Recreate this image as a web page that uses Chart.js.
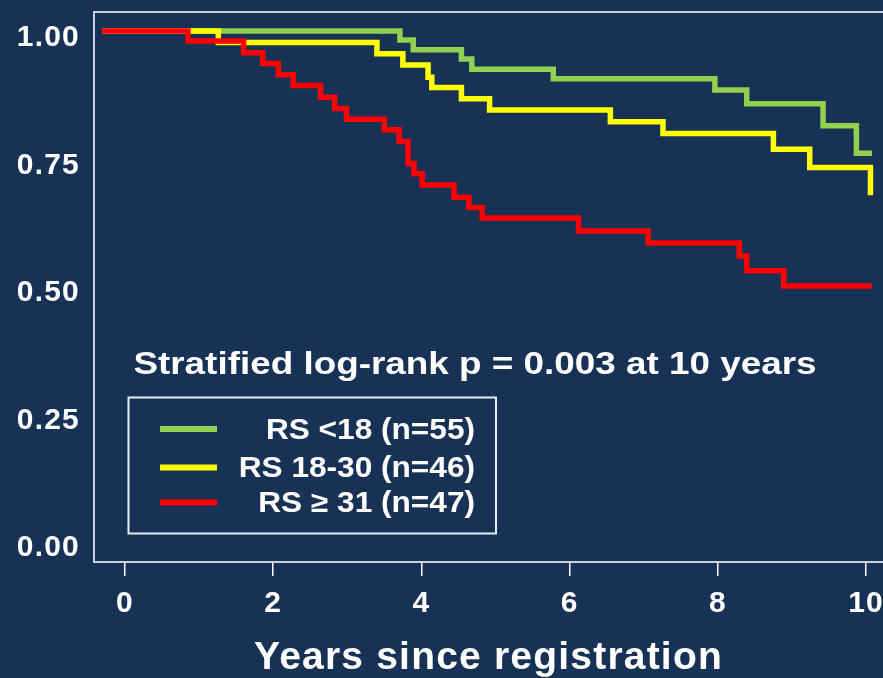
<!DOCTYPE html>
<html>
<head>
<meta charset="utf-8">
<title>Survival by Recurrence Score group</title>
<script src="https://cdn.jsdelivr.net/npm/chart.js@4.4.1/dist/chart.umd.min.js"></script>
<style>
  html, body { margin: 0; padding: 0; background: #173255; }
  #wrap { width: 883px; height: 678px; }
  canvas { display: block; }
</style>
</head>
<body>
<div id="wrap"><canvas id="km" width="883" height="678"></canvas></div>
<script>
// Kaplan-Meier step data: time (years) at which each drop happens, and the survival after it.
const seriesLabels = ['RS <18 (n=55)', 'RS 18-30 (n=46)', 'RS \u2265 31 (n=47)'];
const seriesColors = ['#92d050', '#ffff00', '#ff0000'];

const lowTimes = [-0.31, 3.71, 3.89, 4.54, 4.68, 5.78, 7.96, 8.39, 9.42, 9.87, 10.08];
const lowSurv  = [1.000, 0.982, 0.963, 0.945, 0.925, 0.906, 0.884, 0.857, 0.814, 0.760, 0.760];

const midTimes = [-0.31, 1.26, 3.40, 3.75, 4.09, 4.14, 4.54, 4.92, 6.55, 7.26, 8.75, 9.24, 10.06];
const midSurv  = [1.000, 0.977, 0.955, 0.933, 0.909, 0.889, 0.867, 0.845, 0.822, 0.799, 0.768, 0.732, 0.678];

const highTimes = [-0.31, 0.85, 1.60, 1.86, 2.07, 2.27, 2.64, 2.83, 2.99, 3.50, 3.70, 3.82, 3.90, 4.01, 4.44, 4.64, 4.82, 6.12, 7.06, 8.29, 8.39, 8.89, 10.08];
const highSurv  = [1.000, 0.980, 0.957, 0.936, 0.914, 0.893, 0.870, 0.848, 0.827, 0.806, 0.783, 0.740, 0.720, 0.698, 0.674, 0.654, 0.633, 0.608, 0.584, 0.559, 0.530, 0.500, 0.500];

const xTickValues = [0, 2, 4, 6, 8, 10];
const yTickValues = [0, 0.25, 0.5, 0.75, 1];
const xAxisTitle = 'Years since registration';
const testNote = 'Stratified log-rank p = 0.003 at 10 years';

const FONT = '"Liberation Sans", Arial, Helvetica, sans-serif';
const BG = '#173255';
const FRAME = '#c9d1dc';

function toPoints(times, surv) {
  return times.map((t, i) => ({ x: t, y: surv[i] }));
}

const seriesData = [toPoints(lowTimes, lowSurv), toPoints(midTimes, midSurv), toPoints(highTimes, highSurv)];

// Background, top frame line, the test note and the boxed key
const decorations = {
  id: 'decorations',
  beforeDraw(chart) {
    const ctx = chart.ctx;
    ctx.save();
    ctx.fillStyle = BG;
    ctx.fillRect(0, 0, chart.width, chart.height);
    ctx.restore();
    // slightly wider type for the axis text
    ctx.letterSpacing = '1.2px';
  },
  afterDraw(chart) {
    const ctx = chart.ctx;
    const area = chart.chartArea;
    ctx.save();
    ctx.letterSpacing = '0px';

    // top edge of the plot frame
    ctx.strokeStyle = FRAME;
    ctx.lineWidth = 2;
    ctx.beginPath();
    ctx.moveTo(area.left, area.top);
    ctx.lineTo(area.right, area.top);
    ctx.stroke();

    function wideText(text, x, baseline, size, stretch, align) {
      ctx.save();
      ctx.font = 'bold ' + size + 'px ' + FONT;
      ctx.fillStyle = '#ffffff';
      ctx.textAlign = align;
      ctx.textBaseline = 'alphabetic';
      ctx.translate(x, baseline);
      ctx.scale(stretch, 1);
      ctx.fillText(text, 0, 0);
      ctx.restore();
    }

    // log-rank note
    wideText(testNote, 475, 374, 31.5, 1.17, 'center');

    // key box
    const bx = 128.5, by = 397.5, bw = 367.5, bh = 136;
    ctx.strokeStyle = '#e8ecf2';
    ctx.lineWidth = 2;
    ctx.strokeRect(bx, by, bw, bh);

    const rowY = [429, 467.5, 502.5];
    chart.data.datasets.forEach((ds, i) => {
      ctx.strokeStyle = ds.borderColor;
      ctx.lineWidth = 6;
      ctx.lineCap = 'butt';
      ctx.beginPath();
      ctx.moveTo(160, rowY[i]);
      ctx.lineTo(217, rowY[i]);
      ctx.stroke();
      wideText(ds.label, 475, rowY[i] + 9.5, 29, 1.09, 'right');
    });
    ctx.restore();
  }
};

new Chart(document.getElementById('km'), {
  type: 'line',
  data: {
    datasets: seriesLabels.map((label, i) => ({
      label: label,
      data: seriesData[i],
      borderColor: seriesColors[i],
      backgroundColor: seriesColors[i],
      borderWidth: 5.5,
      stepped: true,
      fill: false,
      pointRadius: 0,
      borderCapStyle: 'butt',
      borderJoinStyle: 'miter',
      order: seriesLabels.length - i
    }))
  },
  options: {
    responsive: false,
    animation: false,
    devicePixelRatio: 1,
    layout: { padding: { top: 12, left: 0, right: 0, bottom: 0 } },
    plugins: {
      legend: { display: false },
      tooltip: { enabled: false }
    },
    scales: {
      x: {
        type: 'linear',
        min: -0.418,
        max: 10.229,
        afterBuildTicks: s => { s.ticks = xTickValues.map(v => ({ value: v })); },
        afterFit: s => { s.height = 116; s.paddingLeft = 0; s.paddingRight = 0; },
        grid: { display: true, drawOnChartArea: false, drawTicks: true, tickLength: 14, color: '#ffffff', lineWidth: 1.5 },
        border: { display: true, color: FRAME, width: 2 },
        ticks: {
          color: '#ffffff',
          font: { family: FONT, size: 30, weight: 'bold', lineHeight: 1.2 },
          padding: 10,
          maxRotation: 0,
          autoSkip: false,
          callback: v => String(v)
        },
        title: {
          display: true,
          text: xAxisTitle,
          color: '#ffffff',
          font: { family: FONT, size: 39, weight: 'bold', lineHeight: 1 },
          padding: { top: 0, bottom: 0 }
        }
      },
      y: {
        min: -0.041,
        max: 1.037,
        afterBuildTicks: s => { s.ticks = yTickValues.map(v => ({ value: v })); },
        afterFit: s => { s.width = 94; s.paddingTop = 0; s.paddingBottom = 0; },
        grid: { display: false, drawTicks: false },
        border: { display: true, color: FRAME, width: 2 },
        ticks: {
          color: '#ffffff',
          font: { family: FONT, size: 30, weight: 'bold' },
          padding: 14,
          labelOffset: 7,
          callback: v => v.toFixed(2)
        }
      }
    }
  },
  plugins: [decorations]
});
</script>
</body>
</html>
